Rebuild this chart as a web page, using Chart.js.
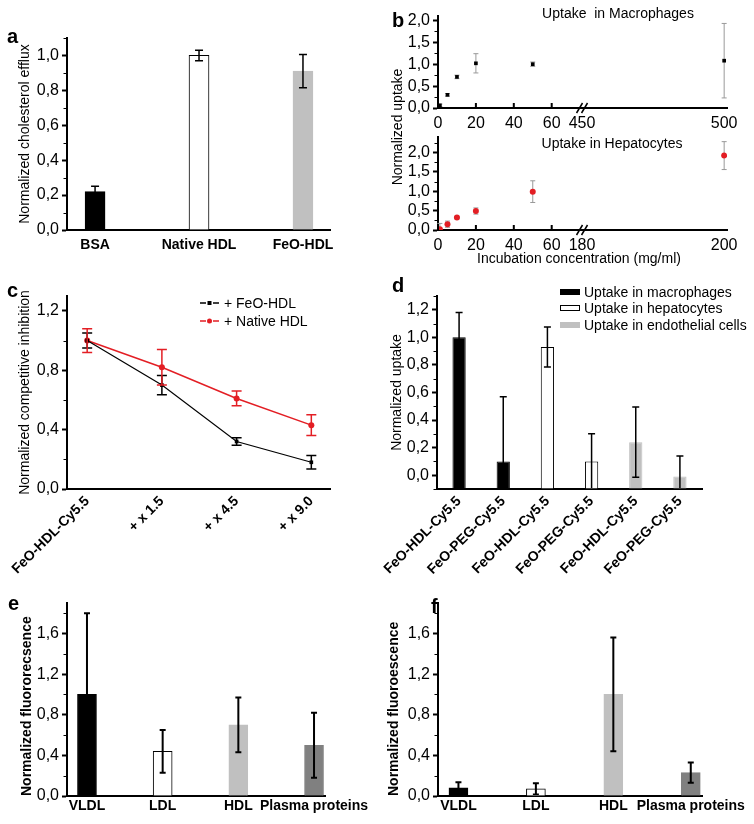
<!DOCTYPE html>
<html>
<head>
<meta charset="utf-8">
<script src="https://cdn.jsdelivr.net/npm/chart.js@4.4.1/dist/chart.umd.min.js"></script>
<style>
  body { margin: 0; background: #fff; width: 754px; height: 824px; position: relative; overflow: hidden;
         font-family: "Liberation Sans", Arial, sans-serif; }
  canvas { position: absolute; }
  .letter { position: absolute; font-weight: bold; font-size: 20px; line-height: 20px; }
  .txt { position: absolute; font-size: 14px; line-height: 16px; white-space: nowrap; }
</style>
</head>
<body>
<canvas id="a" style="left:0;top:0" width="377" height="260"></canvas>
<canvas id="b1" style="left:377px;top:0" width="377" height="130"></canvas>
<canvas id="b2" style="left:377px;top:130px" width="377" height="130"></canvas>
<canvas id="c" style="left:0;top:260px" width="377" height="330"></canvas>
<canvas id="d" style="left:377px;top:260px" width="377" height="330"></canvas>
<canvas id="e" style="left:0;top:560px" width="377" height="264"></canvas>
<canvas id="f" style="left:377px;top:560px" width="377" height="264"></canvas>

<div class="letter" style="left:7px;top:26px">a</div>
<div class="letter" style="left:392px;top:10px">b</div>
<div class="letter" style="left:7px;top:280px">c</div>
<div class="letter" style="left:392px;top:275px">d</div>
<div class="letter" style="left:8px;top:593px">e</div>
<div class="letter" style="left:431px;top:596px">f</div>
<div class="txt" style="left:397px;top:127px;transform:translate(-50%,-50%) rotate(-90deg)">Normalized uptake</div>
<div class="txt" style="left:579px;top:258px;transform:translate(-50%,-50%)">Incubation concentration (mg/ml)</div>

<script>
// a: cholesterol efflux
const effluxCats = ['BSA', 'Native HDL', 'FeO-HDL'];
const effluxVals = [0.22, 1.0, 0.91];
const effluxErr = [0.03, 0.03, 0.095];

// b: uptake vs incubation concentration
const macroConc = [1, 5, 10, 20, 50, 500];
const macroVals = [0.06, 0.30, 0.71, 1.02, 1.00, 1.08];
const macroErr = [0.03, 0.03, 0.04, 0.22, 0.05, 0.85];
const hepConc = [1, 5, 10, 20, 50, 200];
const hepVals = [0.02, 0.15, 0.32, 0.49, 0.99, 1.92];
const hepErr = [0.15, 0.08, 0.03, 0.08, 0.28, 0.36];
const macroTicks = [0, 20, 40, 60, 450, 500];
const hepTicks = [0, 20, 40, 60, 180, 200];

// c: competitive inhibition
const inhibCats = ['FeO-HDL-Cy5.5', '+ x 1.5', '+ x 4.5', '+ x 9.0'];
const feoVals = [1.0, 0.70, 0.32, 0.18];
const feoErr = [0.05, 0.065, 0.025, 0.045];
const nativeVals = [1.0, 0.82, 0.61, 0.43];
const nativeErr = [0.08, 0.12, 0.05, 0.07];

// d: uptake per cell type
const probeCats = ['FeO-HDL-Cy5.5', 'FeO-PEG-Cy5.5', 'FeO-HDL-Cy5.5', 'FeO-PEG-Cy5.5', 'FeO-HDL-Cy5.5', 'FeO-PEG-Cy5.5'];
const macroUptake = [1.0, 0.10, null, null, null, null];
const macroUptakeErr = [0.18, 0.47, null, null, null, null];
const hepUptake = [null, null, 0.93, 0.10, null, null];
const hepUptakeErr = [null, null, 0.145, 0.20, null, null];
const endoUptake = [null, null, null, null, 0.24, -0.01];
const endoUptakeErr = [null, null, null, null, 0.255, 0.15];

// e, f: fluorescence per lipoprotein fraction
const lipoCats = ['VLDL', 'LDL', 'HDL', 'Plasma proteins'];
const fluorE = [1.0, 0.44, 0.70, 0.50];
const fluorEErr = [0.80, 0.21, 0.27, 0.32];
const fluorF = [0.08, 0.07, 1.0, 0.23];
const fluorFErr = [0.055, 0.055, 0.56, 0.10];

const lipoColors = ['#000000', '#ffffff', '#c0c0c0', '#808080'];
const lipoBorders = ['#000000', '#000000', '#c0c0c0', '#808080'];

Chart.defaults.font.family = '"Liberation Sans", Arial, sans-serif';
Chart.defaults.color = '#000';

function drawErrors(chart, o) {
  const { ctx, chartArea: ca } = chart;
  const ys = chart.scales.y;
  ctx.save();
  ctx.beginPath();
  ctx.rect(ca.left - 20, ca.top - 20, ca.right - ca.left + 40, ca.bottom - ca.top + 19);
  ctx.clip();
  chart.data.datasets.forEach((ds, i) => {
    if (!ds.errors) return;
    chart.getDatasetMeta(i).data.forEach((el, j) => {
      const e = ds.errors[j];
      if (e == null || !isFinite(el.y)) return;
      const v = ys.getValueForPixel(el.y);
      const t = ys.getPixelForValue(v + e), b = ys.getPixelForValue(v - e);
      ctx.strokeStyle = ds.errColor || o.color || '#000';
      ctx.lineWidth = o.width || 1.5;
      ctx.beginPath();
      ctx.moveTo(el.x, t); ctx.lineTo(el.x, b);
      ctx.moveTo(el.x - o.cap, t); ctx.lineTo(el.x + o.cap, t);
      ctx.moveTo(el.x - o.cap, b); ctx.lineTo(el.x + o.cap, b);
      ctx.stroke();
    });
  });
  ctx.restore();
}

// error bars, legends, notes, axis breaks, short minor ticks
const ext = {
  id: 'ext',
  beforeDatasetsDraw(chart, args, o) { if (o.under) drawErrors(chart, o); },
  afterDatasetsDraw(chart, args, o) { if (!o.under) drawErrors(chart, o); },
  afterDraw(chart, args, o) {
    const { ctx, chartArea: ca } = chart;
    ctx.save();
    // minor y ticks
    ctx.strokeStyle = '#000';
    ctx.lineWidth = 1;
    ctx.beginPath();
    chart.scales.y.ticks.forEach(t => {
      if (t.label !== '') return;
      const py = Math.round(chart.scales.y.getPixelForValue(t.value)) + 0.5;
      ctx.moveTo(ca.left - 3.5, py); ctx.lineTo(ca.left, py);
    });
    ctx.stroke();
    (o.notes || []).forEach(n => {
      ctx.font = '14px "Liberation Sans", Arial, sans-serif';
      ctx.fillStyle = '#000';
      ctx.textAlign = 'center';
      ctx.textBaseline = 'middle';
      ctx.fillText(n.text, n.x, n.y);
    });
    (o.legend || []).forEach(it => {
      ctx.strokeStyle = it.color;
      ctx.fillStyle = it.color;
      if (it.kind === 'box') {
        ctx.fillStyle = it.fill;
        ctx.fillRect(it.x, it.y - 3, 20, 6);
        if (it.stroke) { ctx.lineWidth = 1; ctx.strokeStyle = it.stroke; ctx.strokeRect(it.x + 0.5, it.y - 2.5, 19, 5); }
      } else {
        ctx.lineWidth = 1.5;
        ctx.beginPath();
        ctx.moveTo(it.x, it.y); ctx.lineTo(it.x + 6, it.y);
        ctx.moveTo(it.x + 13, it.y); ctx.lineTo(it.x + 19, it.y);
        ctx.stroke();
        ctx.beginPath();
        if (it.kind === 'rect') ctx.rect(it.x + 7.5, it.y - 2, 4, 4);
        else ctx.arc(it.x + 9.5, it.y, 2.5, 0, Math.PI * 2);
        ctx.fill();
      }
      ctx.fillStyle = '#000';
      ctx.font = '14px "Liberation Sans", Arial, sans-serif';
      ctx.textAlign = 'left';
      ctx.textBaseline = 'middle';
      ctx.fillText(it.text, it.x + 24, it.y + 1);
    });
    if (o.breakAt != null) {
      const px = chart.scales.x.getPixelForValue(o.breakAt);
      ctx.strokeStyle = '#000';
      ctx.lineWidth = 1.5;
      ctx.beginPath();
      [-2.5, 2.5].forEach(dx => {
        ctx.moveTo(px + dx - 3, ca.bottom + 5);
        ctx.lineTo(px + dx + 3, ca.bottom - 5);
      });
      ctx.stroke();
    }
    if (o.inTicks) {
      ctx.strokeStyle = '#000';
      ctx.lineWidth = 2;
      ctx.beginPath();
      o.inTicks.forEach(v => {
        const px = chart.scales.x.getPixelForValue(v);
        ctx.moveTo(px, ca.bottom); ctx.lineTo(px, ca.bottom - 5);
      });
      ctx.stroke();
    }
    ctx.restore();
  }
};

function yScale(c) {
  const isMajor = v => Math.abs(v / c.major - Math.round(v / c.major)) < 1e-6;
  return {
    type: 'linear', min: c.min, max: c.max,
    afterBuildTicks: s => {
      const t = [];
      for (let n = Math.ceil(c.min / c.minor - 1e-6); n * c.minor <= c.max + 1e-6; n++) {
        t.push({ value: +(n * c.minor).toFixed(4) });
      }
      s.ticks = t;
    },
    afterFit: s => { s.width = c.w; s.paddingTop = 0; s.paddingBottom = 0; },
    border: { display: true, color: '#000', width: 2 },
    grid: { drawOnChartArea: false, drawTicks: true, tickLength: 5, tickWidth: 2,
            tickColor: x => (x.tick && isMajor(x.tick.value)) ? '#000' : 'rgba(0,0,0,0)' },
    ticks: { color: '#000', font: { size: 16 }, padding: 3, autoSkip: false,
             callback: v => isMajor(v) ? v.toFixed(1).replace('.', ',') : '' },
    title: { display: !!c.title, text: c.title, color: '#000', align: c.align || 'center',
             font: { size: 14, weight: c.bold ? 'bold' : 'normal' }, padding: { top: c.tp || 0, bottom: 0 } }
  };
}

function xLinear(c) {
  return {
    type: 'linear', min: c.min, max: c.max, offset: false,
    afterBuildTicks: s => { s.ticks = c.values.map(v => ({ value: v })); },
    afterFit: s => { s.height = c.h; s.paddingLeft = 0; s.paddingRight = 0; },
    border: { display: true, color: '#000', width: 2 },
    grid: { display: false, drawTicks: false, offset: false },
    ticks: { color: '#000', font: { size: c.size || 14, weight: c.bold === false ? 'normal' : 'bold' },
             padding: c.pad, autoSkip: false, maxRotation: c.rot || 0, minRotation: c.rot || 0,
             callback: (v, i) => c.labels[i] }
  };
}

function options(W, H, area, scales, extOpts) {
  return {
    responsive: false, animation: false, events: [],
    layout: { padding: { left: 0, top: area.t, right: W - area.r, bottom: 0 } },
    plugins: { legend: { display: false }, tooltip: { enabled: false }, ext: extOpts },
    scales
  };
}

// ---- a
new Chart(document.getElementById('a'), {
  type: 'bar',
  data: { datasets: [{
    data: effluxVals.map((v, i) => ({ x: i, y: v })),
    errors: effluxErr,
    backgroundColor: ['#000000', '#ffffff', '#c0c0c0'],
    borderColor: ['#000000', '#000000', '#c0c0c0'],
    borderWidth: 1, barThickness: 20
  }] },
  options: options(377, 260, { t: 38, r: 330 }, {
    x: xLinear({ min: -0.27, max: 2.26, values: [0, 1, 2], labels: effluxCats, h: 30, pad: 7 }),
    y: yScale({ min: 0, max: 1.1, minor: 0.1, major: 0.2, w: 67, title: 'Normalized cholesterol efflux', tp: 17 })
  }, { cap: 4, width: 1.5 }),
  plugins: [ext]
});

// ---- b (broken x axis: values above the break are compressed into the right segment)
const BREAK = 76;
const squeeze = (x, from, k) => x <= BREAK ? x : BREAK + (x - from) * k;

function uptakeChart(id, conc, vals, errs, ticks, from, k, max, color, style, area, note) {
  const sq = v => squeeze(v, from, k);
  new Chart(document.getElementById(id), {
    type: 'scatter',
    data: { datasets: [{
      data: conc.map((c, i) => ({ x: sq(c), y: vals[i] })),
      errors: errs, errColor: '#999999',
      backgroundColor: color, borderColor: color,
      pointStyle: style, pointRadius: style === 'rect' ? 2.6 : 3, borderWidth: 0
    }] },
    options: options(377, 130, area, {
      x: xLinear({ min: 0, max: 152.5, values: ticks.map(sq), labels: ticks, h: 130 - area.b, pad: 6, size: 16, bold: false }),
      y: yScale({ min: 0, max: max, minor: 0.25, major: 0.5, w: 61 })
    }, { cap: 2.5, width: 1, under: true, breakAt: BREAK, inTicks: ticks.map(sq).filter(v => v < BREAK), notes: [note] }),
    plugins: [ext]
  });
}
uptakeChart('b1', macroConc, macroVals, macroErr, macroTicks, 450, 1.5, 2.1, '#000', 'rect',
  { t: 16, r: 350, b: 108 }, { text: 'Uptake  in Macrophages', x: 241, y: 14 });
uptakeChart('b2', hepConc, hepVals, hepErr, hepTicks, 180, 3.75, 2.4, '#e31e24', 'circle',
  { t: 7, r: 350, b: 100 }, { text: 'Uptake in Hepatocytes', x: 235, y: 14 });

// ---- c
new Chart(document.getElementById('c'), {
  type: 'line',
  data: { datasets: [
    { data: feoVals.map((v, i) => ({ x: i, y: v })), errors: feoErr, errColor: '#000',
      borderColor: '#000', backgroundColor: '#000', borderWidth: 1.2, pointStyle: 'rect', pointRadius: 2.6, pointBorderWidth: 0 },
    { data: nativeVals.map((v, i) => ({ x: i, y: v })), errors: nativeErr, errColor: '#e31e24',
      borderColor: '#e31e24', backgroundColor: '#e31e24', borderWidth: 1.5, pointStyle: 'circle', pointRadius: 3, pointBorderWidth: 0 }
  ] },
  options: options(377, 330, { t: 36, r: 330 }, {
    x: xLinear({ min: -0.27, max: 3.25, values: [0, 1, 2, 3], labels: inhibCats, h: 101, pad: 4, rot: 45 }),
    y: yScale({ min: 0, max: 1.3, minor: 0.2, major: 0.4, w: 67, title: 'Normalized competitive inhibition', tp: 17 })
  }, { cap: 5, width: 1.5, legend: [
    { kind: 'rect', color: '#000', text: '+ FeO-HDL', x: 200, y: 43 },
    { kind: 'circle', color: '#e31e24', text: '+ Native HDL', x: 200, y: 61 }
  ] }),
  plugins: [ext]
});

// ---- d
new Chart(document.getElementById('d'), {
  type: 'bar',
  data: { labels: probeCats, datasets: [
    { data: macroUptake, errors: macroUptakeErr, backgroundColor: '#000', borderColor: '#000', borderWidth: 1, base: -0.1 },
    { data: hepUptake, errors: hepUptakeErr, backgroundColor: '#fff', borderColor: '#000', borderWidth: 1, base: -0.1 },
    { data: endoUptake, errors: endoUptakeErr, backgroundColor: '#c0c0c0', borderColor: '#c0c0c0', borderWidth: 1, base: -0.1 }
  ] },
  options: Object.assign(options(377, 330, { t: 36, r: 325 }, {
    x: {
      type: 'category', offset: true,
      afterFit: s => { s.height = 101; s.paddingLeft = 0; s.paddingRight = 0; },
      border: { display: true, color: '#000', width: 2 },
      grid: { display: false, drawTicks: false },
      ticks: { color: '#000', font: { size: 14, weight: 'bold' }, padding: 4, autoSkip: false, maxRotation: 45, minRotation: 45 }
    },
    y: yScale({ min: -0.1, max: 1.3, minor: 0.1, major: 0.2, w: 60, title: 'Normalized uptake', tp: 12 })
  }, { cap: 3.5, width: 1.5, legend: [
    { kind: 'box', fill: '#000', text: 'Uptake in macrophages', x: 183, y: 32 },
    { kind: 'box', fill: '#fff', stroke: '#000', text: 'Uptake in hepatocytes', x: 183, y: 48 },
    { kind: 'box', fill: '#c0c0c0', text: 'Uptake in endothelial cells', x: 183, y: 65 }
  ] }), { datasets: { bar: { skipNull: true, barPercentage: 0.3, categoryPercentage: 1 } } }),
  plugins: [ext]
});

// ---- e, f
function fluorChart(id, vals, errs, title, tp, left) {
  new Chart(document.getElementById(id), {
    type: 'bar',
    data: { datasets: [{
      data: vals.map((v, i) => ({ x: i, y: v })),
      errors: errs,
      backgroundColor: lipoColors, borderColor: lipoBorders, borderWidth: 1, barThickness: 19
    }] },
    options: options(377, 264, { t: 43, r: 325 }, {
      x: xLinear({ min: -0.264, max: 3.145, values: [0, 1, 2, 3], labels: lipoCats, h: 28, pad: 2 }),
      y: yScale({ min: 0, max: 1.9, minor: 0.2, major: 0.4, w: left, title: title, tp: tp, bold: true, align: 'start' })
    }, { cap: 3, width: 2 }),
    plugins: [ext]
  });
}
fluorChart('e', fluorE, fluorEErr, 'Normalized fluororecsence', 19, 67);
fluorChart('f', fluorF, fluorFErr, 'Normalized fluoroescence', 9, 61);
</script>
</body>
</html>
